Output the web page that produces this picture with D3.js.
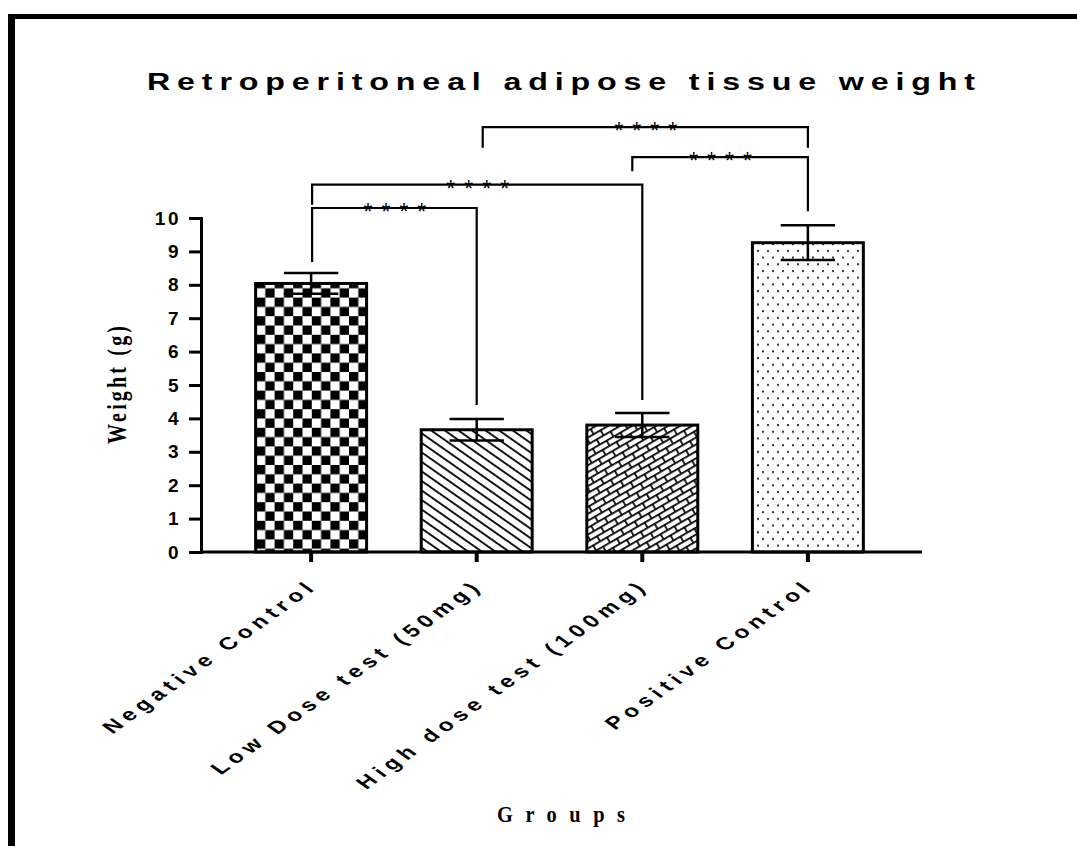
<!DOCTYPE html>
<html>
<head>
<meta charset="utf-8">
<script src="https://cdn.jsdelivr.net/npm/d3@7"></script>
<style>
  html, body { margin: 0; padding: 0; background: #fff; }
  svg { display: block; }
</style>
</head>
<body>
<script>
// ---------------- data ----------------
const categories = ["Negative Control", "Low Dose test (50mg)", "High dose test (100mg)", "Positive Control"];
const means = [8.04, 3.66, 3.80, 9.26];
const errors = [0.31, 0.32, 0.36, 0.52];
const yTickValues = [0, 1, 2, 3, 4, 5, 6, 7, 8, 9, 10];
const fillPatterns = ["checker", "diag", "brick", "dots"];
// significance brackets: group indices, bracket level and leg ends (in data units)
const compA = [0, 0, 2, 1];
const compB = [1, 2, 3, 3];
const compLevel = [10.3, 11.0, 11.82, 12.72];
const compLegA = [8.68, 10.4, 11.4, 12.1];
const compLegB = [4.4, 4.55, 10.2, 12.1];
const compLabel = ["****", "****", "****", "****"];
const titleText = "Retroperitoneal adipose tissue weight";
const xTitle = "Groups";
const yTitle = "Weight (g)";

// ---------------- layout ----------------
const W = 1077, H = 846;
const SX = 1.4; // horizontal stretch of the original figure's text
const svg = d3.select("body").append("svg").attr("width", W).attr("height", H);

// frame (thick black border on top and left)
svg.append("rect").attr("x", 8).attr("y", 14).attr("width", W - 8).attr("height", 5).attr("fill", "#000");
svg.append("rect").attr("x", 8).attr("y", 14).attr("width", 7).attr("height", H - 14).attr("fill", "#000");

const defs = svg.append("defs");
// checkerboard
const pc = defs.append("pattern").attr("id", "checker").attr("patternUnits", "userSpaceOnUse")
  .attr("width", 18.6).attr("height", 18.6).attr("x", 256).attr("y", 0);
pc.append("rect").attr("width", 18.6).attr("height", 18.6).attr("fill", "#fff");
pc.append("rect").attr("width", 9.3).attr("height", 9.3).attr("fill", "#000");
pc.append("rect").attr("x", 9.3).attr("y", 9.3).attr("width", 9.3).attr("height", 9.3).attr("fill", "#000");
// diagonal lines (top-left to bottom-right)
const pd = defs.append("pattern").attr("id", "diag").attr("patternUnits", "userSpaceOnUse")
  .attr("width", 10).attr("height", 7.8).attr("patternTransform", "rotate(35)");
pd.append("rect").attr("width", 10).attr("height", 7.8).attr("fill", "#fff");
pd.append("line").attr("x1", 0).attr("x2", 10).attr("y1", 3.9).attr("y2", 3.9).attr("stroke", "#000").attr("stroke-width", 1.8);
// bricks
const pb = defs.append("pattern").attr("id", "brick").attr("patternUnits", "userSpaceOnUse")
  .attr("width", 16).attr("height", 12).attr("patternTransform", "rotate(-30)");
pb.append("rect").attr("width", 16).attr("height", 12).attr("fill", "#fff");
pb.append("path").attr("d", "M0,0.8H16M0,6.8H16M1,0.8V6.8M9,6.8V12.8")
  .attr("stroke", "#000").attr("stroke-width", 1.7).attr("fill", "none");
// dots
const pdot = defs.append("pattern").attr("id", "dots").attr("patternUnits", "userSpaceOnUse")
  .attr("width", 10).attr("height", 13.4);
pdot.append("rect").attr("width", 10).attr("height", 13.4).attr("fill", "#fff");
pdot.append("rect").attr("x", 2).attr("y", 2).attr("width", 2).attr("height", 2).attr("fill", "#333");
pdot.append("rect").attr("x", 7).attr("y", 8.7).attr("width", 2).attr("height", 2).attr("fill", "#333");

const x = d3.scaleBand().domain(categories).range([201, 918]).padding(0.33);
const y = d3.scaleLinear().domain([0, 10]).range([552, 218]);

const sans = "'Liberation Sans', Arial, sans-serif";
const serif = "'Liberation Serif', 'Times New Roman', serif";

// title
svg.append("text").attr("transform", `translate(561,90) scale(${SX},1)`).attr("text-anchor", "middle")
  .attr("font-family", sans).attr("font-weight", "bold").attr("font-size", 23)
  .attr("textLength", 828 / SX).attr("lengthAdjust", "spacing")
  .text(titleText);

// bars
const g = svg.append("g");
g.selectAll("rect.bar").data(categories).join("rect").attr("class", "bar")
  .attr("x", d => x(d)).attr("width", x.bandwidth())
  .attr("y", (d, i) => y(means[i])).attr("height", (d, i) => y(0) - y(means[i]))
  .attr("fill", (d, i) => `url(#${fillPatterns[i]})`)
  .attr("stroke", "#000").attr("stroke-width", 3);

// error bars
const capW = x.bandwidth() * 0.49;
const eb = g.selectAll("g.err").data(categories).join("g").attr("class", "err");
eb.append("line").attr("x1", d => x(d) + x.bandwidth() / 2).attr("x2", d => x(d) + x.bandwidth() / 2)
  .attr("y1", (d, i) => y(means[i] - errors[i])).attr("y2", (d, i) => y(means[i] + errors[i]))
  .attr("stroke", "#000").attr("stroke-width", 2.5);
eb.append("line").attr("x1", d => x(d) + x.bandwidth() / 2 - capW / 2).attr("x2", d => x(d) + x.bandwidth() / 2 + capW / 2)
  .attr("y1", (d, i) => y(means[i] + errors[i])).attr("y2", (d, i) => y(means[i] + errors[i]))
  .attr("stroke", "#000").attr("stroke-width", 2.5);
eb.append("line").attr("x1", d => x(d) + x.bandwidth() / 2 - capW / 2).attr("x2", d => x(d) + x.bandwidth() / 2 + capW / 2)
  .attr("y1", (d, i) => y(means[i] - errors[i])).attr("y2", (d, i) => y(means[i] - errors[i]))
  .attr("stroke", "#000").attr("stroke-width", 2.5);

// axes
const yAxis = svg.append("g").attr("transform", "translate(201,0)")
  .call(d3.axisLeft(y).tickValues(yTickValues).tickFormat(d3.format("d")).tickSize(12).tickSizeOuter(0).tickPadding(8));
yAxis.select(".domain").attr("stroke-width", 3).attr("stroke-linecap", "square");
yAxis.selectAll(".tick line").attr("stroke-width", 3);
yAxis.selectAll(".tick text").attr("font-family", sans).attr("font-weight", "bold")
  .attr("font-size", 19).attr("letter-spacing", "2.5px").attr("fill", "#000");

const xAxis = svg.append("g").attr("transform", "translate(0,552)")
  .call(d3.axisBottom(x).tickSize(10).tickSizeOuter(0).tickFormat(""));
xAxis.select(".domain").attr("stroke-width", 3).attr("d", "M201,0H922");
xAxis.selectAll(".tick line").attr("stroke-width", 4);

// rotated category labels
svg.append("g").selectAll("text").data(categories).join("text")
  .attr("transform", d => `translate(${x(d) + x.bandwidth() / 2 + 8},587) scale(${SX},1) rotate(-45)`)
  .attr("text-anchor", "end")
  .attr("font-family", sans).attr("font-weight", "bold").attr("font-size", 17.5)
  .attr("letter-spacing", "4.3px")
  .text(d => d);

// axis titles
svg.append("text").attr("transform", `translate(126,385) scale(${SX},1) rotate(-90)`).attr("text-anchor", "middle")
  .attr("font-family", serif).attr("font-weight", "bold").attr("font-size", 20)
  .attr("textLength", 118).attr("lengthAdjust", "spacing").text(yTitle);
svg.append("text").attr("transform", "translate(561,822) scale(0.85,1)").attr("text-anchor", "middle")
  .attr("font-family", serif).attr("font-weight", "bold").attr("font-size", 24)
  .attr("textLength", 128 / 0.85).attr("lengthAdjust", "spacing").text(xTitle);

// significance brackets
const cx = i => x(categories[i]) + x.bandwidth() / 2;
const legOffA = [1, 1, -10, 6];
const br = svg.append("g");
compA.forEach((a, k) => {
  const b = compB[k];
  const x1 = cx(a) + legOffA[k], x2 = cx(b);
  const yl = y(compLevel[k]);
  br.append("path")
    .attr("d", `M${x1},${y(compLegA[k])}V${yl}H${x2}V${y(compLegB[k])}`)
    .attr("fill", "none").attr("stroke", "#000").attr("stroke-width", 2.2);
  br.append("text").attr("x", (x1 + x2) / 2 + 5).attr("y", yl + 12).attr("text-anchor", "middle")
    .attr("font-family", sans).attr("font-size", 23).attr("letter-spacing", "9px")
    .text(compLabel[k]);
});
</script>
</body>
</html>
